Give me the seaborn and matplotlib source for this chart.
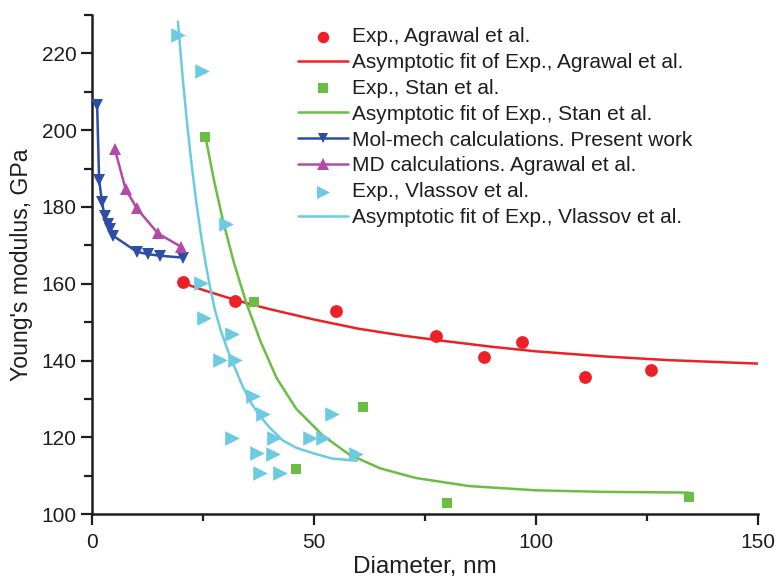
import matplotlib
matplotlib.use("Agg")
import matplotlib.pyplot as plt
import seaborn as sns
import pandas as pd
from matplotlib.ticker import MultipleLocator

# ---- data ----
agr_x = [20.5, 32.2, 55.0, 77.6, 88.3, 96.8, 111.0, 126.0]
agr_y = [160.4, 155.4, 152.9, 146.5, 141.0, 144.7, 135.6, 137.5]

agr_fit_x = [20.5, 25, 30, 35, 40, 50, 60, 70, 80, 90, 100, 115, 130, 150]
agr_fit_y = [160.2, 158.4, 156.6, 154.9, 153.4, 150.7, 148.3, 146.5, 145.0, 143.6, 142.4, 141.1, 140.1, 139.2]

stan_x = [25.6, 36.6, 61.1, 46.1, 80.0, 134.5]
stan_y = [198.3, 155.3, 127.9, 111.8, 102.8, 104.5]

stan_fit_x = [25.6, 27.5, 29.6, 32, 34.8, 38, 41.6, 46, 52, 58, 65, 73, 85, 100, 115, 134.5]
stan_fit_y = [198.3, 187.0, 176.2, 165.5, 155.0, 145.0, 135.5, 127.5, 120.5, 115.5, 111.9, 109.4, 107.3, 106.2, 105.8, 105.6]

mm_x = [1.2, 1.65, 2.3, 2.9, 3.7, 4.2, 4.8, 10.2, 12.7, 15.3, 20.6]
mm_y = [206.5, 187.1, 181.2, 177.6, 175.6, 174.2, 172.5, 168.3, 167.7, 167.3, 166.8]

md_x = [5.2, 7.6, 10.1, 14.9, 20.0]
md_y = [195.0, 184.7, 179.7, 173.1, 169.7]

vl_x = [19.4, 24.9, 30.3, 24.7, 25.3, 31.5, 28.8, 32.2, 36.2, 38.6, 31.5,
        41.0, 49.1, 52.0, 54.0, 37.1, 40.8, 37.8, 42.3, 59.6]
vl_y = [224.8, 215.5, 175.6, 160.3, 151.0, 147.0, 140.1, 140.1, 130.8, 126.1, 119.9,
        119.9, 119.9, 119.9, 126.1, 115.9, 115.6, 110.6, 110.6, 115.7]

vl_fit_x = [19.4, 20.5, 21.5, 22.5, 23.5, 24.5, 25.5, 26.5, 27.7, 29, 30.5, 32, 34,
            36, 38, 40, 43, 46, 50, 54, 59.7]
vl_fit_y = [228.3, 213.3, 201.3, 190.8, 181.5, 173.4, 166.2, 159.9, 153.3, 148.0, 143.0,
            138.7, 133.2, 128.7, 125.4, 122.6, 119.2, 117.3, 115.8, 114.5, 113.9]

labels = ["Exp., Agrawal et al.",
          "Asymptotic fit of Exp., Agrawal et al.",
          "Exp., Stan et al.",
          "Asymptotic fit of Exp., Stan et al.",
          "Mol-mech calculations. Present work",
          "MD calculations. Agrawal et al.",
          "Exp., Vlassov et al.",
          "Asymptotic fit of Exp., Vlassov et al."]

RED = "#ED2027"
GREEN = "#6BBD45"
BLUE = "#2C4EA6"
MAG = "#B24BA6"
CYAN = "#6CCBE0"
INK = "#1E1E1E"

sns.set_theme(style="ticks")
plt.rcParams["font.family"] = ["Liberation Sans", "DejaVu Sans"]

fig = plt.figure(figsize=(7.78, 5.77), dpi=100)
ax = fig.add_axes([0.118, 0.109, 0.856, 0.865])

lw = 1.8
# fits
sns.lineplot(x=agr_fit_x, y=agr_fit_y, ax=ax, color=RED, lw=lw, sort=False,
             estimator=None, label=labels[1], zorder=2)
sns.lineplot(x=stan_fit_x, y=stan_fit_y, ax=ax, color=GREEN, lw=lw, sort=False,
             estimator=None, label=labels[3], zorder=2)
sns.lineplot(x=vl_fit_x, y=vl_fit_y, ax=ax, color=CYAN, lw=lw, sort=False,
             estimator=None, label=labels[7], zorder=2)
# calculations
sns.lineplot(x=mm_x, y=mm_y, ax=ax, color=BLUE, lw=lw, sort=False, estimator=None,
             marker="v", markersize=8, markeredgewidth=0, label=labels[4], zorder=3)
sns.lineplot(x=md_x, y=md_y, ax=ax, color=MAG, lw=lw, sort=False, estimator=None,
             marker="^", markersize=9, markeredgewidth=0, label=labels[5], zorder=3)
# experiments
sns.scatterplot(x=agr_x, y=agr_y, ax=ax, color=RED, marker="o", s=85,
                linewidth=0, label=labels[0], zorder=4)
sns.scatterplot(x=stan_x, y=stan_y, ax=ax, color=GREEN, marker="s", s=55,
                linewidth=0, label=labels[2], zorder=4)
sns.scatterplot(x=vl_x, y=vl_y, ax=ax, color=CYAN, marker=">", s=110,
                linewidth=0, label=labels[6], zorder=4)

ax.set_xlim(0, 150)
ax.set_ylim(100, 230)
ax.xaxis.set_major_locator(MultipleLocator(50))
ax.xaxis.set_minor_locator(MultipleLocator(25))
ax.yaxis.set_minor_locator(MultipleLocator(10))
ax.set_yticks([100, 120, 140, 160, 180, 200, 220])

for s in ["top", "right"]:
    ax.spines[s].set_visible(False)
for s in ["left", "bottom"]:
    ax.spines[s].set_linewidth(1.8)
    ax.spines[s].set_color(INK)

ax.tick_params(axis="both", which="major", direction="out", length=8, width=1.6,
               labelsize=15, colors=INK, pad=3)
ax.tick_params(axis="both", which="minor", direction="out", length=6, width=1.6,
               colors=INK)
ax.tick_params(axis="x", which="major", pad=5.5)
ax.tick_params(axis="x", which="minor", length=5)

ax.set_xlabel("Diameter, nm", fontsize=17.5, color=INK, labelpad=3)
ax.set_ylabel("Young's modulus, GPa", fontsize=16.6, color=INK, labelpad=6)

handles, labs = ax.get_legend_handles_labels()
hmap = dict(zip(labs, handles))
leg = ax.legend([hmap[l] for l in labels], labels, loc="upper left",
                bbox_to_anchor=(0.383, 0.953), bbox_transform=fig.transFigure,
                frameon=False, fontsize=15, handlelength=2.4, handletextpad=0.2,
                labelspacing=0.33, borderpad=0, borderaxespad=0, markerscale=0.9)
for t in leg.get_texts():
    t.set_color(INK)

fig.savefig("out.png", dpi=100)
